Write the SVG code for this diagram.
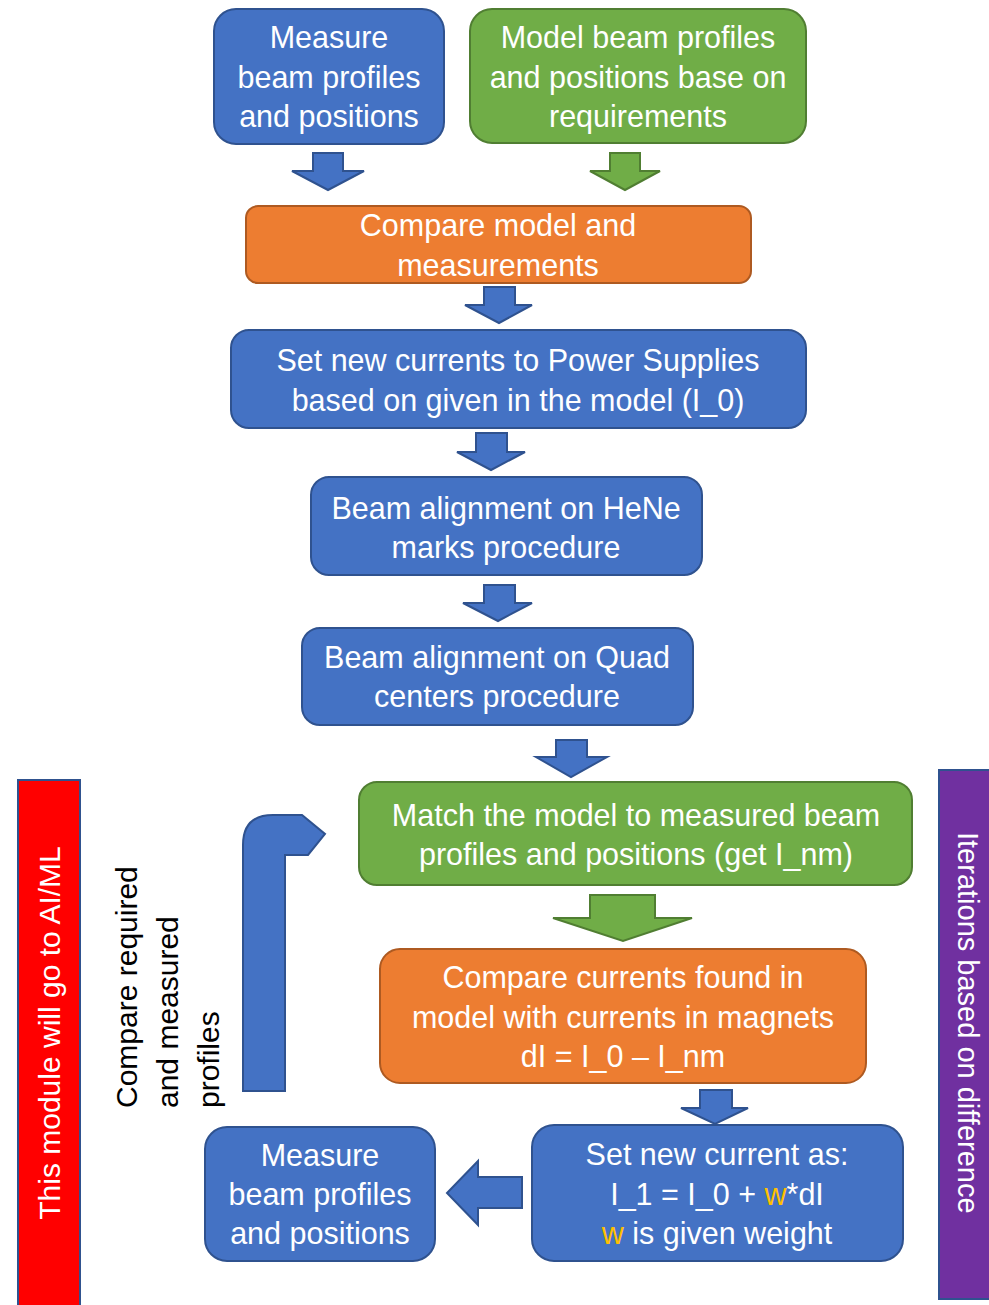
<svg xmlns="http://www.w3.org/2000/svg" width="989" height="1305" viewBox="0 0 989 1305">
<style>
.blue{fill:#4472C4;stroke:#2F528F;stroke-width:2}
.green{fill:#70AD47;stroke:#507E32;stroke-width:2}
.orange{fill:#ED7D31;stroke:#AE5A21;stroke-width:2}
.t{font-family:"Liberation Sans",Arial,sans-serif;font-size:30.5px;fill:#fff;text-anchor:middle}
.lbl{font-family:"Liberation Sans",Arial,sans-serif;font-size:30px;fill:#000}
.y{fill:#FFC000}
</style>
<rect width="989" height="1305" fill="#fff"/>

<g id="bar-ai">
<rect x="18" y="780" width="62" height="530" fill="#FF0000" stroke="#2F528F" stroke-width="2"/>
<text class="t" style="font-size:30px" transform="translate(60,1033) rotate(-90)">This module will go to AI/ML</text>
</g>
<g id="bar-iter">
<rect x="939" y="770" width="60" height="529" fill="#7030A0" stroke="#2F528F" stroke-width="2"/>
<text class="t" style="font-size:29px;text-anchor:start" transform="translate(958,832) rotate(90)">Iterations based on difference</text>
</g>

<g id="n-measure1">
<rect class="blue" x="214" y="9" width="230" height="135" rx="22"/>
<text class="t" x="329" y="48">Measure</text>
<text class="t" x="329" y="88">beam profiles</text>
<text class="t" x="329" y="127">and positions</text>
</g>
<g id="n-model">
<rect class="green" x="470" y="9" width="336" height="134" rx="22"/>
<text class="t" x="638" y="48">Model beam profiles</text>
<text class="t" x="638" y="88">and positions base on</text>
<text class="t" x="638" y="127">requirements</text>
</g>
<g id="n-compare1">
<rect class="orange" x="246" y="206" width="505" height="77" rx="12"/>
<text class="t" x="498" y="236">Compare model and</text>
<text class="t" x="498" y="276">measurements</text>
</g>
<g id="n-setps">
<rect class="blue" x="231" y="330" width="575" height="98" rx="18"/>
<text class="t" x="518" y="371">Set new currents to Power Supplies</text>
<text class="t" x="518" y="411">based on given in the model (I_0)</text>
</g>
<g id="n-hene">
<rect class="blue" x="311" y="477" width="391" height="98" rx="18"/>
<text class="t" x="506" y="519">Beam alignment on HeNe</text>
<text class="t" x="506" y="558">marks procedure</text>
</g>
<g id="n-quad">
<rect class="blue" x="302" y="628" width="391" height="97" rx="18"/>
<text class="t" x="497" y="668">Beam alignment on Quad</text>
<text class="t" x="497" y="707">centers procedure</text>
</g>
<g id="n-match">
<rect class="green" x="359" y="782" width="553" height="103" rx="18"/>
<text class="t" x="636" y="826">Match the model to measured beam</text>
<text class="t" x="636" y="865">profiles and positions (get I_nm)</text>
</g>
<g id="n-compare2">
<rect class="orange" x="380" y="949" width="486" height="134" rx="20"/>
<text class="t" x="623" y="988">Compare currents found in</text>
<text class="t" x="623" y="1028">model with currents in magnets</text>
<text class="t" x="623" y="1067">dI = I_0 – I_nm</text>
</g>
<g id="n-setnew">
<rect class="blue" x="532" y="1125" width="371" height="136" rx="22"/>
<text class="t" x="717" y="1165">Set new current as:</text>
<text class="t" x="717" y="1205">I_1 = I_0 + <tspan class="y">w</tspan>*dI</text>
<text class="t" x="717" y="1244"><tspan class="y">w</tspan> is given weight</text>
</g>
<g id="n-measure2">
<rect class="blue" x="205" y="1127" width="230" height="134" rx="22"/>
<text class="t" x="320" y="1166">Measure</text>
<text class="t" x="320" y="1205">beam profiles</text>
<text class="t" x="320" y="1244">and positions</text>
</g>

<g id="loop-label">
<text class="lbl" transform="translate(137,1108) rotate(-90)">Compare required</text>
<text class="lbl" transform="translate(178,1108) rotate(-90)">and measured</text>
<text class="lbl" transform="translate(219,1108) rotate(-90)">profiles</text>
</g>

<g id="connectors">
<path class="blue" d="M313,153 H343 V171 H364 L328,190 L292,171 H313 Z"/>
<path class="green" d="M610,153 H640 V171 H660 L625,190 L590,171 H610 Z"/>
<path class="blue" d="M484,287 H515 V305 H532 L499,323 L465,305 H484 Z"/>
<path class="blue" d="M476,433 H507 V452 H525 L491,470 L457,452 H476 Z"/>
<path class="blue" d="M484,585 H515 V603 H532 L498,621 L463,603 H484 Z"/>
<path class="blue" d="M556,740 H587 V757 H607 L571,777 L536,757 H556 Z"/>
<path class="green" d="M590,895 H655 V918 H692 L623,941 L553,918 H590 Z"/>
<path class="blue" d="M700,1090 H732 V1108 H748 L715,1124 L681,1108 H700 Z"/>
<path class="blue" d="M522,1177 V1208 H478 V1225 L447,1193 L478,1161 V1177 Z"/>
<path class="blue" d="M243,1091 V845 Q243,815 273,815 H302 L325,834 L308,855 H285 V1091 Z"/>
</g>
</svg>
